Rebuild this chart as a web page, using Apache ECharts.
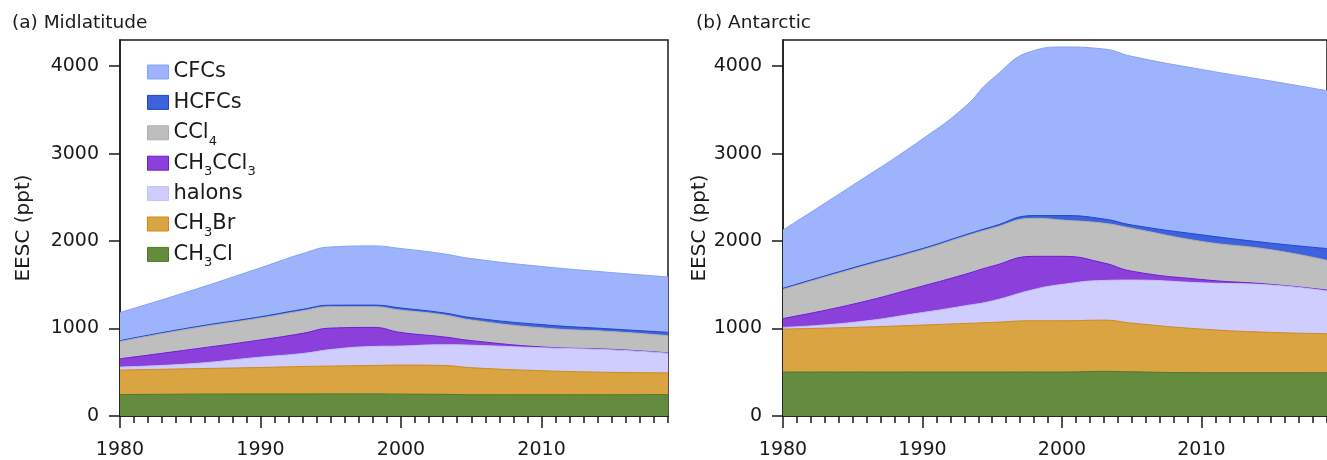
<!DOCTYPE html>
<html>
<head>
<meta charset="utf-8">
<script src="https://cdn.jsdelivr.net/npm/echarts@6/dist/echarts.min.js"></script>
<style>
  html, body { margin: 0; padding: 0; background: #fff; overflow: hidden; }
  #chart { width: 1327px; height: 460px; }
</style>
</head>
<body>
<div id="chart"></div>
<script>
// years
const years = [1980, 1985, 1990, 1993, 1995, 1998, 2000, 2003, 2005, 2010, 2015, 2019];

// (a) Midlatitude, EESC contribution per group (ppt)
const midCH3Cl   = [245, 250, 252, 252, 253, 253, 250, 248, 243, 243, 243, 245];
const midCH3Br   = [280, 290, 303, 314, 318, 325, 332, 330, 309, 275, 256, 248];
const midHalons  = [35, 57, 118, 149, 189, 217, 218, 237, 258, 262, 257, 225];
const midCH3CCl3 = [94, 163, 197, 230, 245, 218, 155, 90, 52, 10, 6, 4];
const midCCl4    = [198, 238, 251, 259, 245, 237, 256, 253, 236, 218, 203, 197];
const midHCFCs   = [10, 12, 14, 16, 17, 18, 24, 22, 27, 37, 30, 38];
const midCFCs    = [322, 420, 560, 637, 666, 677, 680, 675, 675, 665, 645, 633];

// (b) Antarctic
const antCH3Cl   = [503, 503, 503, 503, 503, 503, 503, 510, 505, 495, 495, 495];
const antCH3Br   = [491, 510, 537, 555, 567, 586, 586, 586, 557, 499, 461, 447];
const antHalons  = [19, 57, 143, 201, 246, 358, 415, 454, 492, 529, 541, 488];
const antCH3CCl3 = [102, 208, 303, 359, 397, 379, 322, 200, 102, 38, 8, 10];
const antCCl4    = [333, 402, 415, 435, 434, 435, 415, 454, 491, 436, 396, 340];
const antHCFCs   = [12, 14, 14, 15, 18, 31, 51, 49, 38, 75, 76, 135];
const antCFCs    = [668, 945, 1253, 1462, 1690, 1888, 1928, 1944, 1928, 1891, 1853, 1805];

const yTicks = [0, 1000, 2000, 3000, 4000];
const xMajor = [1980, 1990, 2000, 2010];

// bottom to top
const groups = [
  { name: 'CH3Cl',   label: '{n|CH}{s|3}{n|Cl}',        fill: '#658c3e', edge: '#4c7a25', mid: midCH3Cl,   ant: antCH3Cl },
  { name: 'CH3Br',   label: '{n|CH}{s|3}{n|Br}',        fill: '#d9a441', edge: '#cc8b18', mid: midCH3Br,   ant: antCH3Br },
  { name: 'halons',  label: '{n|halons}',               fill: '#cfcdfd', edge: '#c4c1fb', mid: midHalons,  ant: antHalons },
  { name: 'CH3CCl3', label: '{n|CH}{s|3}{n|CCl}{s|3}',  fill: '#8b40dc', edge: '#6a1ed2', mid: midCH3CCl3, ant: antCH3CCl3 },
  { name: 'CCl4',    label: '{n|CCl}{s|4}',             fill: '#bebebe', edge: '#b0b0b0', mid: midCCl4,    ant: antCCl4 },
  { name: 'HCFCs',   label: '{n|HCFCs}',                fill: '#3d62dc', edge: '#1d44d2', mid: midHCFCs,   ant: antHCFCs },
  { name: 'CFCs',    label: '{n|CFCs}',                 fill: '#9db4fc', edge: '#86a2f6', mid: midCFCs,    ant: antCFCs }
];

const font = 'DejaVu Sans, Liberation Sans, sans-serif';
const ink = '#1a1a1a';

// stack by hand: each area is filled down to 0, drawn from the top group down
function makeSeries(key, idx) {
  const running = years.map(() => 0);
  const tops = groups.map(g => g[key].map((v, i) => (running[i] += v)));
  return groups.map((g, k) => ({
    name: g.name,
    type: 'line',
    xAxisIndex: idx * 2,
    yAxisIndex: idx,
    smooth: 0.5,
    symbol: 'none',
    data: years.map((y, i) => [y, tops[k][i]]),
    lineStyle: { color: g.edge, width: 1 },
    areaStyle: { color: g.fill, opacity: 1 },
    itemStyle: { color: g.fill },
    emphasis: { disabled: true }
  })).reverse();
}

function xAxes(gridIndex) {
  return [
    {
      type: 'value', gridIndex, position: 'bottom', min: 1980, max: 2019, interval: 1,
      axisLine: { onZero: false, lineStyle: { color: ink, width: 1.5 } },
      axisTick: { length: 7, lineStyle: { color: ink, width: 1.5 } },
      axisLabel: {
        customValues: xMajor, margin: 25, formatter: v => String(v),
        color: ink, fontSize: 19, fontFamily: font
      },
      splitLine: { show: false }
    },
    {
      type: 'value', gridIndex, position: 'bottom', min: 1980, max: 2019, interval: 10,
      axisLine: { show: false, onZero: false },
      axisTick: { customValues: xMajor, length: 12, lineStyle: { color: ink, width: 1.5 } },
      axisLabel: { show: false },
      splitLine: { show: false }
    }
  ];
}

function yAxis(gridIndex, gap) {
  return {
    type: 'value', gridIndex, min: 0, max: 4300, interval: 1000,
    name: 'EESC (ppt)', nameLocation: 'middle', nameGap: gap,
    nameTextStyle: { color: ink, fontSize: 20, fontFamily: font },
    axisLine: { show: true, lineStyle: { color: ink, width: 1.5 } },
    axisTick: { show: true, customValues: yTicks, length: 11, lineStyle: { color: ink, width: 1.5 } },
    axisLabel: { customValues: yTicks, margin: 21, formatter: v => String(v), color: ink, fontSize: 19, fontFamily: font },
    splitLine: { show: false }
  };
}

const legendRich = {
  n: { fontSize: 21, fontFamily: font, color: ink, lineHeight: 30 },
  s: { fontSize: 13, fontFamily: font, color: ink, lineHeight: 12, verticalAlign: 'bottom' }
};

// one legend block per row, top row is CFCs
const legends = groups.slice().reverse().map((g, i) => ({
  data: [g.name],
  left: 147, top: 61.5 + i * 30.4,
  padding: 0,
  itemWidth: 21, itemHeight: 14, itemGap: 0,
  icon: 'rect',
  selectedMode: false,
  itemStyle: { borderColor: g.edge, borderWidth: 1 },
  formatter: () => g.label,
  textStyle: { rich: legendRich }
}));

const option = {
  animation: false,
  backgroundColor: '#fff',
  title: [
    { text: '(a) Midlatitude', left: 12, top: 14, padding: 0, textStyle: { color: ink, fontSize: 18.5, fontWeight: 'normal', fontFamily: font } },
    { text: '(b) Antarctic', left: 696, top: 14, padding: 0, textStyle: { color: ink, fontSize: 18.5, fontWeight: 'normal', fontFamily: font } }
  ],
  legend: legends,
  grid: [
    { left: 120, top: 40, width: 548, height: 379, show: true, borderColor: ink, borderWidth: 1.5, backgroundColor: 'transparent' },
    { left: 783, top: 40, width: 552, height: 379, show: true, borderColor: ink, borderWidth: 1.5, backgroundColor: 'transparent' }
  ],
  xAxis: xAxes(0).concat(xAxes(1)),
  yAxis: [yAxis(0, 86), yAxis(1, 72)],
  series: makeSeries('mid', 0).concat(makeSeries('ant', 1))
};

const myChart = echarts.init(document.getElementById('chart'), null, { renderer: 'canvas' });
myChart.setOption(option);
</script>
</body>
</html>
